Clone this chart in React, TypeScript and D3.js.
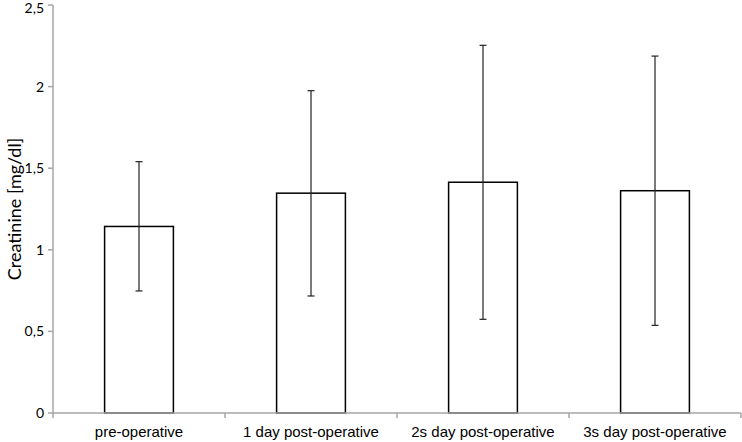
import React from "react";
import * as d3 from "d3";

const categories = ["pre-operative", "1 day post-operative", "2s day post-operative", "3s day post-operative"];
const means = [1.143, 1.347, 1.414, 1.362];
const errHigh = [1.54, 1.975, 2.253, 2.187];
const errLow = [0.748, 0.717, 0.574, 0.537];
const yTicks = [0, 0.5, 1, 1.5, 2, 2.5];

const W = 742, H = 442;
const left = 53, right = 741, top = 5, bottom = 413;

export default function App() {
  const x = d3.scaleBand<string>().domain(categories).range([left, right]).paddingInner(0).paddingOuter(0);
  const y = d3.scaleLinear().domain([0, 2.5]).range([bottom, top]);
  const bw = x.bandwidth() * 0.4;
  const fmt = (v: number) => String(v).replace(".", ",");
  const axisColor = "#a6a6a6";
  return (
    <svg width={W} height={H} style={{ position: "absolute", left: 0, top: 0 }}>
      <rect width={W} height={H} fill="white" />
      {/* y axis */}
      <line x1={left} x2={left} y1={top} y2={bottom} stroke={axisColor} strokeWidth={1.5} />
      {yTicks.map((t) => (
        <g key={t}>
          <line x1={left - 5} x2={left} y1={y(t)} y2={y(t)} stroke={axisColor} strokeWidth={1.5} />
          <text x={44} y={Math.max(y(t), 8)} dy="0.35em" textAnchor="end" fontFamily="Lato, 'Open Sans', sans-serif" fontSize={14} fill="#000">
            {fmt(t)}
          </text>
        </g>
      ))}
      <text transform={`translate(15,${(top + bottom) / 2}) rotate(-90)`} textAnchor="middle" dy="0.35em" fontFamily="Lato, 'Open Sans', sans-serif" fontSize={18} fill="#000">
        Creatinine [mg/dl]
      </text>
      {/* bars */}
      {categories.map((c, i) => {
        const cx = (x(c) as number) + x.bandwidth() / 2;
        return (
          <g key={c}>
            <rect x={cx - bw / 2} y={y(means[i])} width={bw} height={bottom - y(means[i])} fill="white" stroke="#000" strokeWidth={1.5} />
            <line x1={cx} x2={cx} y1={y(errHigh[i])} y2={y(errLow[i])} stroke="#222" strokeWidth={1.2} />
            <line x1={cx - 3.5} x2={cx + 3.5} y1={y(errHigh[i])} y2={y(errHigh[i])} stroke="#222" strokeWidth={1.2} />
            <line x1={cx - 3.5} x2={cx + 3.5} y1={y(errLow[i])} y2={y(errLow[i])} stroke="#222" strokeWidth={1.2} />
            <text x={cx} y={437} textAnchor="middle" fontFamily="'Liberation Sans', Arial, sans-serif" fontSize={15} fill="#000">
              {c}
            </text>
          </g>
        );
      })}
      {/* x axis */}
      <line x1={left} x2={right} y1={bottom} y2={bottom} stroke={axisColor} strokeWidth={1.5} />
      {categories.concat([""]).map((c, i) => {
        const xv = left + i * x.bandwidth();
        return <line key={i} x1={xv} x2={xv} y1={bottom} y2={bottom + 5} stroke={axisColor} strokeWidth={1.5} />;
      })}
    </svg>
  );
}
